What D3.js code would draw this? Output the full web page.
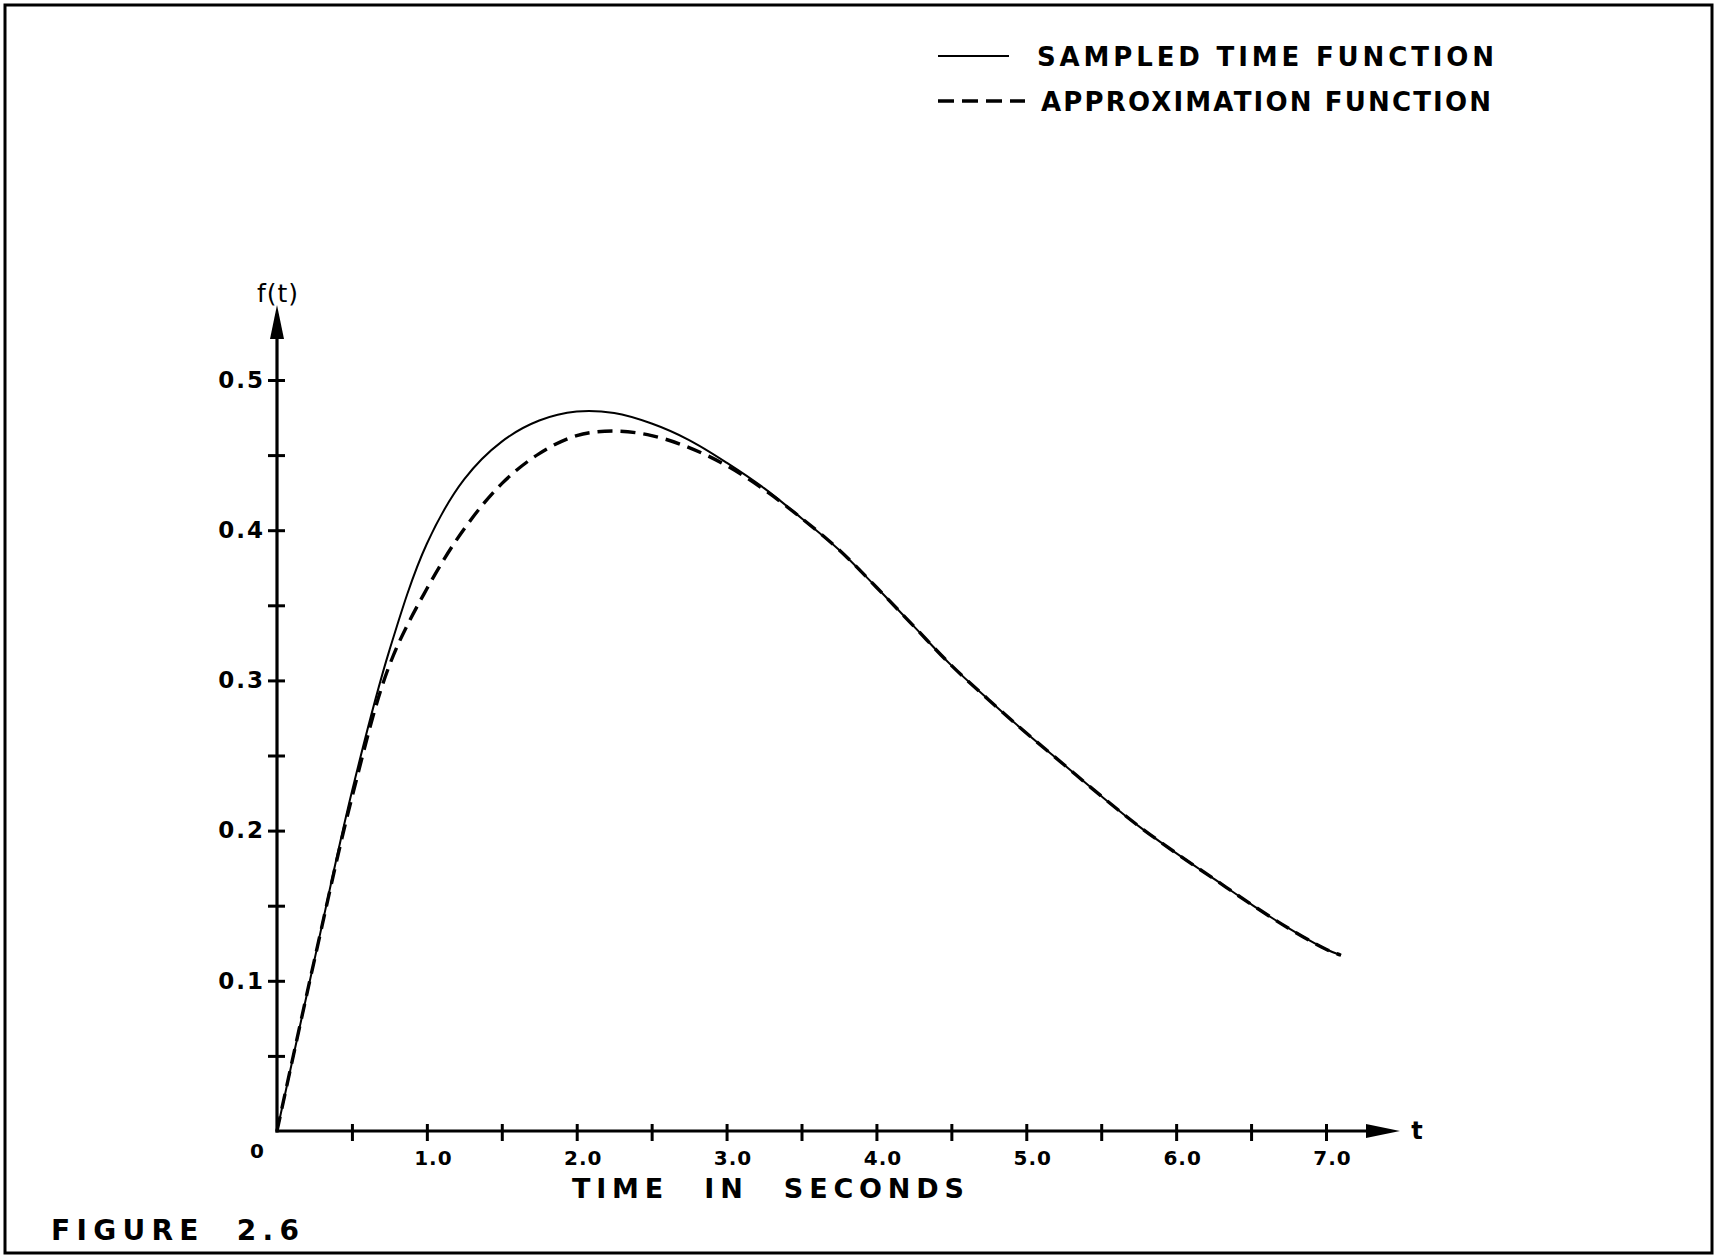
<!DOCTYPE html>
<html>
<head>
<meta charset="utf-8">
<script src="https://cdn.jsdelivr.net/npm/d3@7"></script>
<style>
  html, body { margin: 0; padding: 0; background: #fff; }
  svg { display: block; }
  text { font-family: "DejaVu Sans", sans-serif; font-weight: bold; fill: #000; }
</style>
</head>
<body>
<svg id="chart" width="1716" height="1256"></svg>
<script>
// ---- data ----
const timeValues = [0, 0.25, 0.5, 0.75, 1.0, 1.25, 1.5, 1.75, 2.0, 2.25, 2.5, 2.75, 3.0, 3.25, 3.5,
                    3.75, 4.0, 4.25, 4.5, 4.75, 5.0, 5.25, 5.5, 5.75, 6.0, 6.25, 6.5, 6.75, 7.0, 7.1];
const sampledValues = [0, 0.114, 0.226, 0.320, 0.391, 0.434, 0.459, 0.473, 0.479, 0.478, 0.471, 0.460, 0.445, 0.428, 0.408,
                       0.387, 0.362, 0.336, 0.310, 0.287, 0.265, 0.244, 0.223, 0.203, 0.185, 0.168, 0.151, 0.135, 0.121, 0.117];
const approxValues  = [0, 0.114, 0.222, 0.310, 0.361, 0.401, 0.431, 0.451, 0.463, 0.466, 0.463, 0.455, 0.443, 0.427, 0.408,
                       0.387, 0.362, 0.336, 0.310, 0.287, 0.265, 0.244, 0.223, 0.203, 0.185, 0.168, 0.151, 0.135, 0.121, 0.117];
const xTickValues = [0.5, 1.0, 1.5, 2.0, 2.5, 3.0, 3.5, 4.0, 4.5, 5.0, 5.5, 6.0, 6.5, 7.0];
const xTickLabels = ["", "1.0", "", "2.0", "", "3.0", "", "4.0", "", "5.0", "", "6.0", "", "7.0"];
const yTickValues = [0.05, 0.1, 0.15, 0.2, 0.25, 0.3, 0.35, 0.4, 0.45, 0.5];
const yTickLabels = ["", "0.1", "", "0.2", "", "0.3", "", "0.4", "", "0.5"];
const legendLabels = ["SAMPLED TIME FUNCTION", "APPROXIMATION FUNCTION"];
const xAxisTitle = "TIME IN SECONDS";
const yAxisTitle = "f(t)";
const xArrowLabel = "t";
const originLabel = "0";
const figureLabel = "FIGURE 2.6";

// ---- drawing ----
const svg = d3.select("#chart");
const W = 1716, H = 1256;

svg.append("rect").attr("x", 0).attr("y", 0).attr("width", W).attr("height", H).attr("fill", "#fff");
// frame
svg.append("rect").attr("x", 5).attr("y", 5).attr("width", W - 9).attr("height", H - 8)
  .attr("fill", "none").attr("stroke", "#000").attr("stroke-width", 3);

const x = d3.scaleLinear().domain([0, 7]).range([277, 1326]);
const y = d3.scaleLinear().domain([0, 0.5]).range([1131, 380]);

const x0 = x(0), y0 = y(0);

// axis lines with arrows
const yTop = 305, xRight = 1400;
svg.append("line").attr("x1", x0).attr("y1", y0 + 1.5).attr("x2", x0).attr("y2", yTop + 20)
  .attr("stroke", "#000").attr("stroke-width", 3.2);
svg.append("line").attr("x1", x0 - 1.5).attr("y1", y0).attr("x2", xRight - 20).attr("y2", y0)
  .attr("stroke", "#000").attr("stroke-width", 3.2);
svg.append("path").attr("d", `M${x0},${yTop} L${x0 - 7},${yTop + 34} L${x0 + 7},${yTop + 34} Z`).attr("fill", "#000");
svg.append("path").attr("d", `M${xRight},${y0} L${xRight - 34},${y0 - 7} L${xRight - 34},${y0 + 7} Z`).attr("fill", "#000");

// x axis ticks
const xAxis = d3.axisBottom(x).tickValues(xTickValues).tickSize(10).tickPadding(10)
  .tickFormat((d, i) => xTickLabels[i]);
const gx = svg.append("g").attr("transform", `translate(0,${y0})`).call(xAxis);
gx.select(".domain").remove();
gx.selectAll(".tick line").attr("y1", -7).attr("stroke", "#000").attr("stroke-width", 3);
gx.selectAll(".tick text").attr("font-size", 20).attr("dx", 6).attr("fill", "#000")
  .attr("font-family", "'DejaVu Sans', sans-serif").attr("font-weight", "bold").style("letter-spacing", "1px");

// y axis ticks
const yAxis = d3.axisLeft(y).tickValues(yTickValues).tickSize(9).tickPadding(3)
  .tickFormat((d, i) => yTickLabels[i]);
const gy = svg.append("g").attr("transform", `translate(${x0},0)`).call(yAxis);
gy.select(".domain").remove();
gy.selectAll(".tick line").attr("x1", 8).attr("stroke", "#000").attr("stroke-width", 3);
gy.selectAll(".tick text").attr("font-size", 23).attr("fill", "#000")
  .attr("font-family", "'DejaVu Sans', sans-serif").attr("font-weight", "bold").style("letter-spacing", "2px");

// curves
const sampled = timeValues.map((t, i) => [t, sampledValues[i]]);
const approx = timeValues.map((t, i) => [t, approxValues[i]]);
const line = d3.line().x(d => x(d[0])).y(d => y(d[1])).curve(d3.curveCatmullRom.alpha(0.5));

svg.append("path").datum(approx).attr("d", line).attr("fill", "none")
  .attr("stroke", "#000").attr("stroke-width", 3.4).attr("stroke-dasharray", "15,8");
svg.append("path").datum(sampled).attr("d", line).attr("fill", "none")
  .attr("stroke", "#000").attr("stroke-width", 2);

// labels
svg.append("text").attr("x", 278).attr("y", 302).attr("text-anchor", "middle").attr("font-size", 25)
  .style("font-weight", "normal").style("letter-spacing", "1px").text(yAxisTitle);
svg.append("text").attr("x", 1417).attr("y", 1139).attr("text-anchor", "middle").attr("font-size", 24)
  .text(xArrowLabel);
svg.append("text").attr("x", 257).attr("y", 1158).attr("text-anchor", "middle").attr("font-size", 20)
  .text(originLabel);
svg.append("text").attr("x", 572).attr("y", 1198).attr("font-size", 27)
  .attr("textLength", 392).attr("lengthAdjust", "spacing").style("word-spacing", "20px").text(xAxisTitle);
svg.append("text").attr("x", 51).attr("y", 1240).attr("font-size", 28)
  .attr("textLength", 248).attr("lengthAdjust", "spacing").style("word-spacing", "16px").text(figureLabel);

// legend
const legendRows = [
  {label: legendLabels[0], dash: null, y: 56, x1: 938, x2: 1009, tx: 1037, tw: 457, sw: 2},
  {label: legendLabels[1], dash: "16,8", y: 101, x1: 938, x2: 1025, tx: 1041, tw: 450, sw: 3.4}
];
legendRows.forEach(r => {
  const l = svg.append("line").attr("x1", r.x1).attr("x2", r.x2).attr("y1", r.y).attr("y2", r.y)
    .attr("stroke", "#000").attr("stroke-width", r.sw);
  if (r.dash) l.attr("stroke-dasharray", r.dash);
  svg.append("text").attr("x", r.tx).attr("y", r.y + 10).attr("font-size", 26)
    .attr("textLength", r.tw).attr("lengthAdjust", "spacing").text(r.label);
});
</script>
</body>
</html>
